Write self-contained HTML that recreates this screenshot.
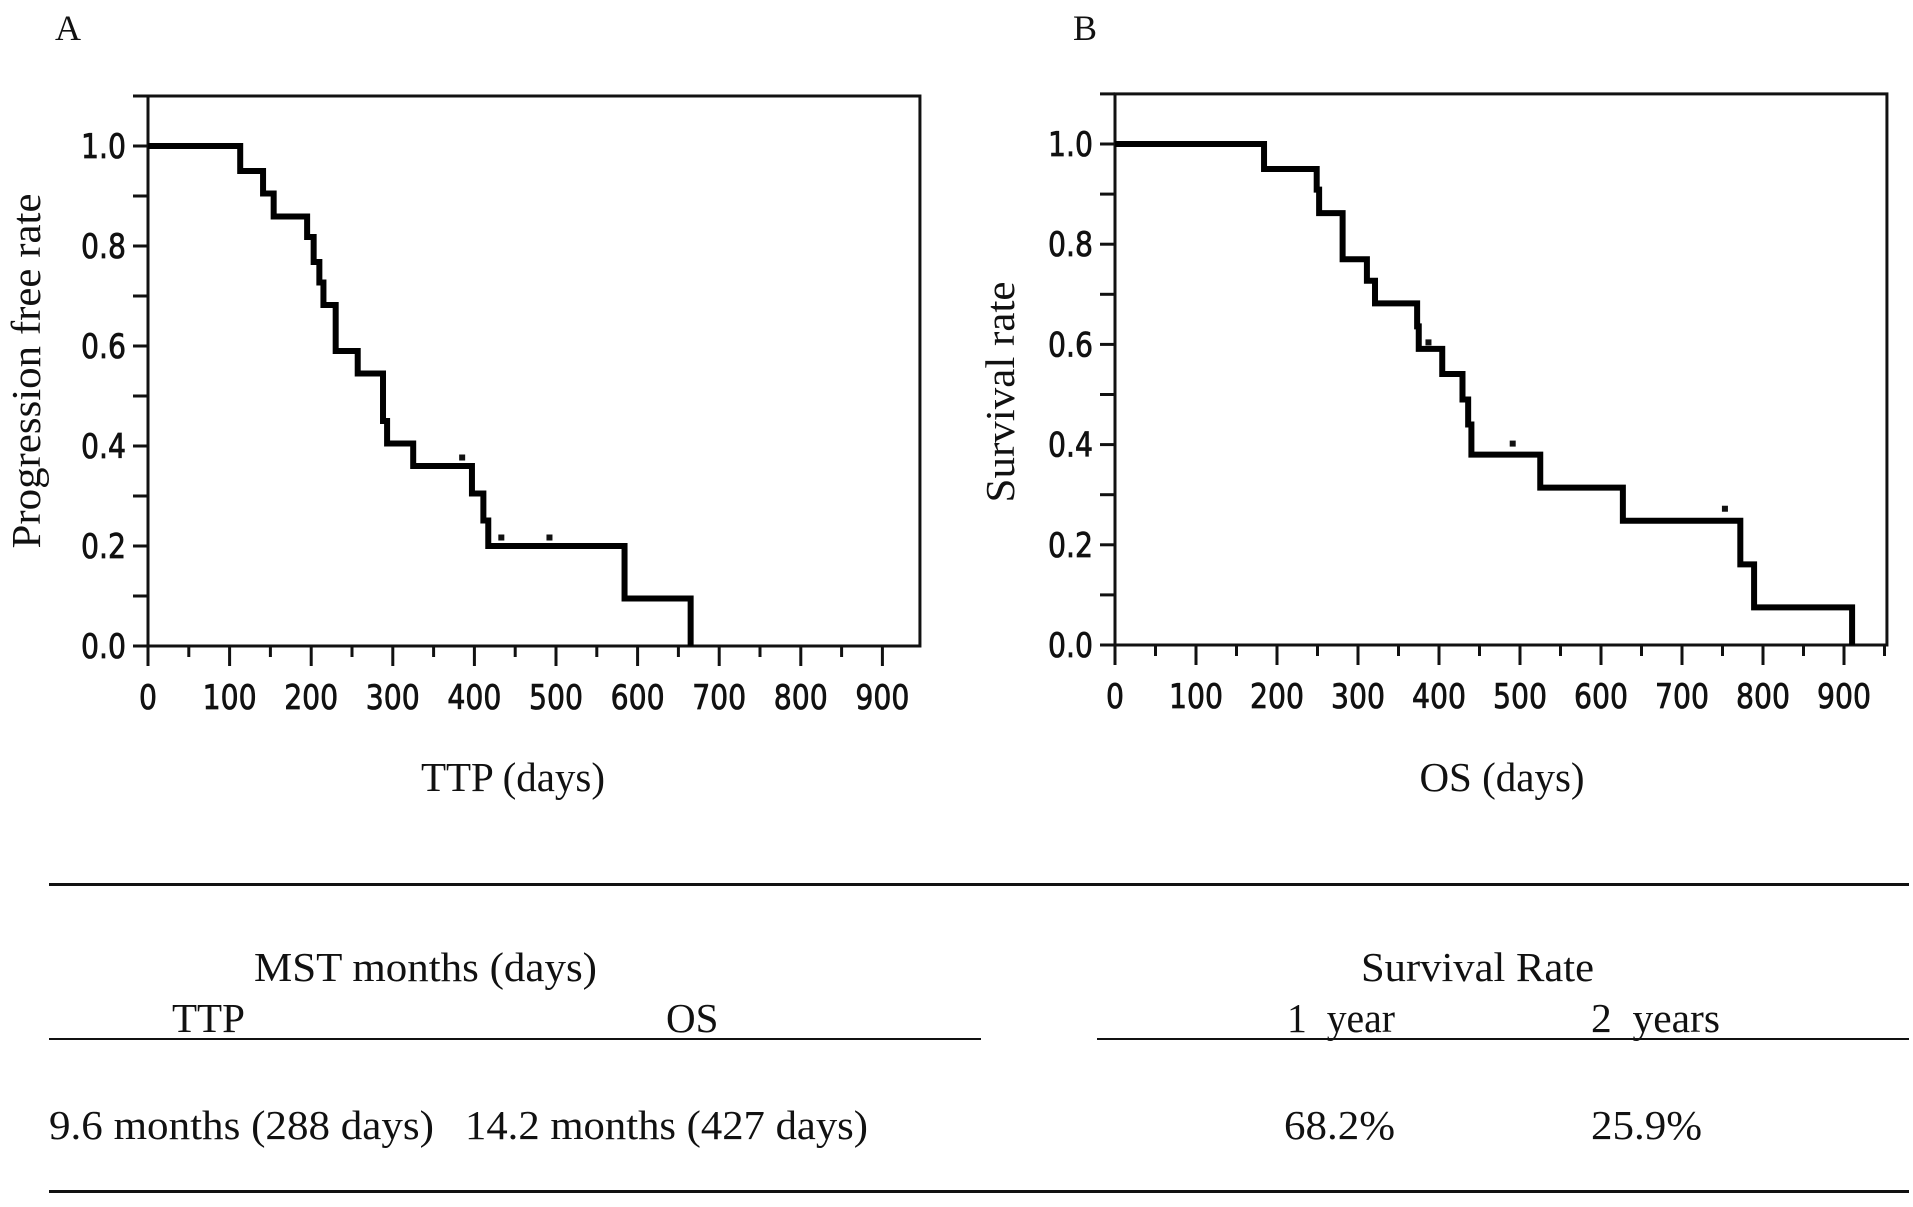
<!DOCTYPE html>
<html><head><meta charset="utf-8"><style>
html,body{margin:0;padding:0;background:#fff;}
svg{display:block;}
.tick{font-family:"DejaVu Sans",sans-serif;font-size:34px;fill:#111;stroke:#111;stroke-width:0.8;}
.serif{font-family:"Liberation Serif",serif;fill:#111;}
</style></head><body>
<svg id="fig" width="1913" height="1207" viewBox="0 0 1913 1207" xmlns="http://www.w3.org/2000/svg">
<text class="serif" x="55" y="40" font-size="36">A</text>
<text class="serif" x="1073" y="40" font-size="36">B</text>
<g id="panelA"></g>
<g id="panelB"></g>
<text class="serif" x="513" y="791" font-size="41" text-anchor="middle">TTP (days)</text>
<text class="serif" x="1502" y="791" font-size="41" text-anchor="middle">OS (days)</text>
<text class="serif" transform="translate(40,371) rotate(-90)" font-size="41" text-anchor="middle" textLength="355" lengthAdjust="spacingAndGlyphs">Progression free rate</text>
<text class="serif" transform="translate(1014,392) rotate(-90)" font-size="41" text-anchor="middle" textLength="221" lengthAdjust="spacingAndGlyphs">Survival rate</text>
<g transform="translate(0,-4)">
<rect x="49" y="887" width="1860" height="3" fill="#111"/>
<rect x="49" y="1042" width="932" height="2" fill="#111"/>
<rect x="1097" y="1042" width="812" height="2" fill="#111"/>
<rect x="49" y="1194" width="1860" height="3" fill="#111"/>
<text class="serif" x="254" y="985" font-size="41" textLength="343" lengthAdjust="spacingAndGlyphs">MST months (days)</text>
<text class="serif" x="1361" y="985" font-size="41" textLength="233" lengthAdjust="spacingAndGlyphs">Survival Rate</text>
<text class="serif" x="172" y="1036" font-size="41">TTP</text>
<text class="serif" x="666" y="1036" font-size="41">OS</text>
<text class="serif" x="1287" y="1036" font-size="41" xml:space="preserve" textLength="108" lengthAdjust="spacingAndGlyphs">1  year</text>
<text class="serif" x="1591" y="1036" font-size="41" xml:space="preserve" textLength="129" lengthAdjust="spacingAndGlyphs">2  years</text>
<text class="serif" x="49" y="1143" font-size="41" textLength="385" lengthAdjust="spacingAndGlyphs">9.6 months (288 days)</text>
<text class="serif" x="465" y="1143" font-size="41" textLength="403" lengthAdjust="spacingAndGlyphs">14.2 months (427 days)</text>
<text class="serif" x="1284" y="1143" font-size="41" textLength="111" lengthAdjust="spacingAndGlyphs">68.2%</text>
<text class="serif" x="1591" y="1143" font-size="41" textLength="111" lengthAdjust="spacingAndGlyphs">25.9%</text>
</g>
</svg>
<script>
// Panel A: TTP
const daysA = [0,113,141,154,195,203,210,215,230,257,288,293,325,397,411,417,584,665];
const rateA = [1.0,0.950,0.905,0.859,0.818,0.768,0.727,0.682,0.590,0.545,0.450,0.405,0.360,0.305,0.251,0.200,0.095,0.0];
const censorDaysA = [385,433,492];
const censorRateA = [0.377,0.217,0.217];
// Panel B: OS
const daysB = [0,184,249,252,281,311,321,373,375,404,429,436,440,525,627,772,789,910];
const rateB = [1.0,0.950,0.909,0.862,0.770,0.727,0.682,0.636,0.591,0.541,0.490,0.440,0.380,0.314,0.248,0.161,0.075,0.0];
const censorDaysB = [387,491,753];
const censorRateB = [0.604,0.402,0.272];
const xTickLabels = ['0','100','200','300','400','500','600','700','800','900'];
const yTickLabels = ['0.0','0.2','0.4','0.6','0.8','1.0'];

const NS='http://www.w3.org/2000/svg';
function mk(tag, attrs, parent){const e=document.createElementNS(NS,tag);for(const k in attrs)e.setAttribute(k,attrs[k]);parent.appendChild(e);return e;}

function draw(gid, cfg, days, rate, cd, cr, tag){
  const g=document.getElementById(gid);
  const xs=d=>cfg.x0+d*cfg.pxPer100/100;
  const ys=v=>cfg.yb-(cfg.yb-cfg.y1)*v;
  const right=xs(cfg.xmax), topY=ys(1.1);
  const fr=mk('rect',{x:cfg.x0,y:topY,width:right-cfg.x0,height:cfg.yb-topY,fill:'none',stroke:'#111','stroke-width':3},g);
  
  
  for(let i=0;i<=11;i++){
    const y=ys(i/10);
    const t=mk('line',{x1:cfg.x0-15,x2:cfg.x0,y1:y,y2:y,stroke:'#111','stroke-width':3},g);
    
    
  }
  yTickLabels.forEach((lab,i)=>{
    const t=mk('text',{x:cfg.x0-22,y:ys(i*0.2)+12,'text-anchor':'end','class':'tick',textLength:45,lengthAdjust:'spacingAndGlyphs'},g);
    t.textContent=lab;
    
    
  });
  for(let d=0; d<=cfg.xmax; d+=50){
    const x=xs(d); const major=d%100===0;
    const t=mk('line',{x1:x,x2:x,y1:cfg.yb,y2:cfg.yb+(major?20:11),stroke:'#111','stroke-width':3},g);
    
    
  }
  xTickLabels.forEach((lab,i)=>{
    const t=mk('text',{x:xs(i*100),y:cfg.yb+63,'text-anchor':'middle','class':'tick',textLength:lab.length*18,lengthAdjust:'spacingAndGlyphs'},g);
    t.textContent=lab;
    
    
  });
  let p='M'+xs(days[0])+','+ys(rate[0]);
  for(let i=1;i<days.length;i++){p+=' H'+xs(days[i])+' V'+ys(rate[i]);}
  const c=mk('path',{d:p,fill:'none',stroke:'#000','stroke-width':6,'stroke-linejoin':'miter'},g);
  
  
  cd.forEach((d,i)=>{
    const m=mk('rect',{x:xs(d)-3,y:ys(cr[i])-3,width:6,height:6,fill:'#111'},g);
    
    
  });
}
draw('panelA',{x0:148,pxPer100:81.6,yb:646,y1:146,xmax:946},daysA,rateA,censorDaysA,censorRateA,'panel-a');
draw('panelB',{x0:1115,pxPer100:81.0,yb:645,y1:144,xmax:953},daysB,rateB,censorDaysB,censorRateB,'panel-b');
</script>
</body></html>
